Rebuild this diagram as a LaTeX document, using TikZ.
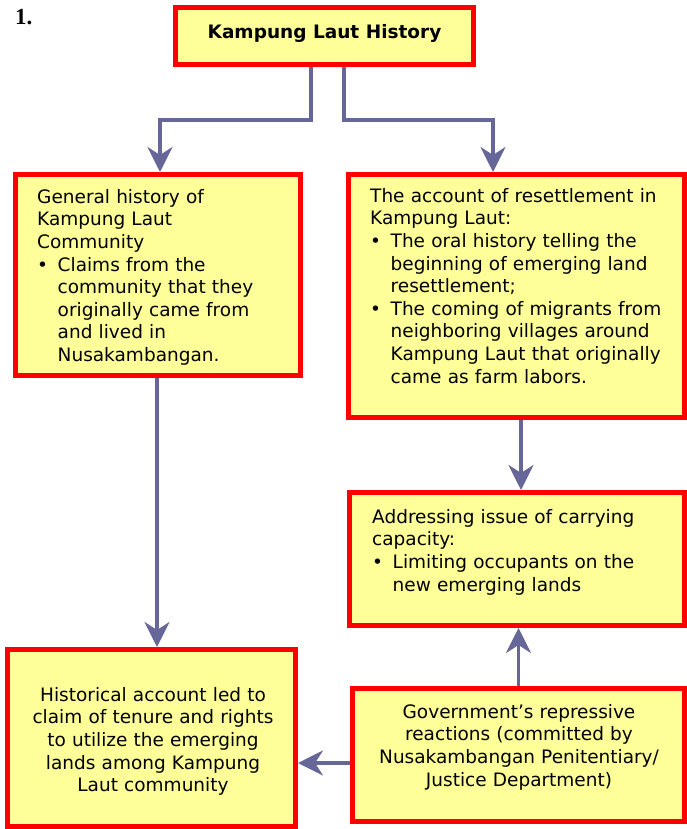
\documentclass[tikz,border=0pt]{standalone}
\usepackage{fontspec}
\setmainfont{DejaVu Sans}
\newfontfamily\numfont{Liberation Serif}
\usetikzlibrary{arrows.meta}
\definecolor{boxfill}{HTML}{FFFF99}
\definecolor{boxred}{HTML}{FF0000}
\definecolor{arrcol}{HTML}{666699}
\newcommand\bitem[1]{\makebox[20.5pt][l]{•}#1}
\newcommand\bcont{\hspace*{20.5pt}}
\begin{document}
\begin{tikzpicture}[x=1pt,y=-1pt,
  boxnode/.style={draw=boxred, line width=5pt, fill=boxfill, inner sep=0pt, rectangle},
  txt/.style={inner sep=0pt, font=\fontsize{18.5}{22.6}\selectfont, text=black},
  arr/.style={draw=arrcol, line width=3.6pt, -{Stealth[length=25pt,width=25pt,inset=8pt]}}]
\useasboundingbox (0,0) rectangle (687,829);
\fill[white] (0,0) rectangle (687,829);

\node[boxnode, minimum width=298pt, minimum height=57pt] (T) at (324.5,36) {};
\node[boxnode, minimum width=285pt, minimum height=201pt] (A) at (158,275) {};
\node[boxnode, minimum width=336pt, minimum height=243pt] (B) at (516.5,296) {};
\node[boxnode, minimum width=335pt, minimum height=133pt] (C) at (517,559) {};
\node[boxnode, minimum width=288pt, minimum height=177pt] (D) at (151.5,738) {};
\node[boxnode, minimum width=332pt, minimum height=133pt] (E) at (518.5,755) {};

\node[inner sep=0pt, anchor=north west, font=\numfont\bfseries\fontsize{23}{26}\selectfont] (num) at (15,9) {1.};

\node[txt, anchor=north, font=\bfseries\fontsize{18.5}{22.6}\selectfont] (tT) at (324.5,24) {Kampung Laut History};

\node[txt, anchor=north west, text width=270pt, align=left] (tA) at (37,189) {General history of\\Kampung Laut\\Community\\
\bitem{Claims from the}\\\bcont community that they\\\bcont originally came from\\\bcont and lived in\\\bcont Nusakambangan.};

\node[txt, anchor=north west, text width=320pt, align=left] (tB) at (370,188) {The account of resettlement in\\Kampung Laut:\\
\bitem{The oral history telling the}\\\bcont beginning of emerging land\\\bcont resettlement;\\
\bitem{The coming of migrants from}\\\bcont neighboring villages around\\\bcont Kampung Laut that originally\\\bcont came as farm labors.};

\node[txt, anchor=north west, text width=315pt, align=left] (tC) at (372,509) {Addressing issue of carrying\\capacity:\\
\bitem{Limiting occupants on the}\\\bcont new emerging lands};

\node[txt, anchor=north, text width=285pt, align=center] (tD) at (153,687) {Historical account led to\\claim of tenure and rights\\to utilize the emerging\\lands among Kampung\\Laut community};

\node[txt, anchor=north, text width=330pt, align=center] (tE) at (519,704) {Government’s repressive\\reactions (committed by\\Nusakambangan Penitentiary/\\Justice Department)};

\draw[arr] ([xshift=-13.5pt]T.south) -- ++(0,53) -| ([xshift=2pt]A.north);
\draw[arr] ([xshift=19.5pt]T.south) -- ++(0,53) -| ([xshift=-23.5pt]B.north);
\draw[arr] ([xshift=-1pt]A.south) -- ([xshift=-1pt]A.south |- D.north);
\draw[arr] ([xshift=4.5pt]B.south) -- ([xshift=4.5pt]B.south |- C.north);
\draw[arr] (E.north) -- (E.north |- C.south);
\draw[arr] ([yshift=-8pt]E.west) -- ([yshift=-8pt]E.west -| D.east);
\end{tikzpicture}
\end{document}
